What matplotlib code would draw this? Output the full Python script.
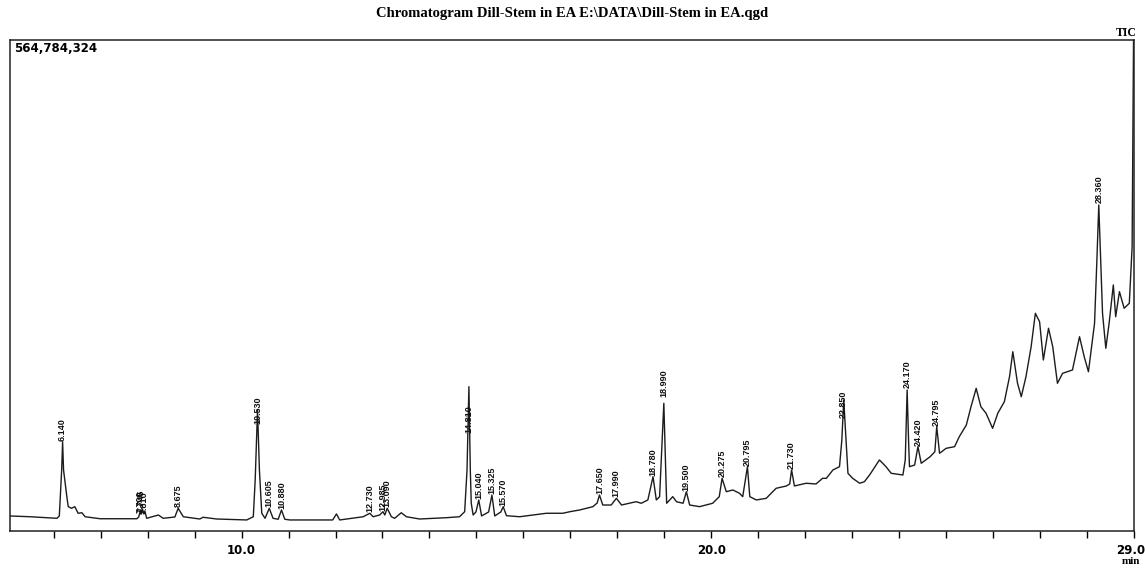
import numpy as np
import matplotlib.pyplot as plt
import matplotlib.transforms as mtransforms

# retention time (min) and TIC intensity (millions of counts)
rt = [5.07, 5.50, 6.07, 6.12, 6.17, 6.19, 6.21, 6.28, 6.31, 6.38, 6.45, 6.52, 6.60, 6.67, 6.99,
      7.77, 7.81, 7.85, 7.87, 7.89, 7.92, 7.94, 7.98, 8.23, 8.33, 8.58, 8.65, 8.76, 9.11, 9.18,
      9.47, 10.11, 10.25, 10.29, 10.34, 10.38, 10.43, 10.50, 10.59, 10.67, 10.78, 10.85, 10.92,
      11.03, 11.94, 12.02, 12.09, 12.59, 12.73, 12.80, 12.94, 13.01, 13.05, 13.10, 13.19, 13.26,
      13.40, 13.51, 13.79, 14.36, 14.64, 14.75, 14.80, 14.84, 14.87, 14.89, 14.93, 14.99, 15.05,
      15.11, 15.26, 15.33, 15.39, 15.52, 15.57, 15.64, 15.92, 16.49, 16.84, 16.99, 17.20, 17.48,
      17.57, 17.62, 17.69, 17.87, 17.98, 18.09, 18.40, 18.51, 18.65, 18.76, 18.83, 18.90, 18.99,
      19.05, 19.18, 19.26, 19.40, 19.47, 19.54, 19.75, 20.03, 20.17, 20.23, 20.32, 20.46, 20.60,
      20.67, 20.77, 20.82, 20.96, 21.17, 21.38, 21.60, 21.67, 21.71, 21.77, 22.02, 22.23, 22.37,
      22.45, 22.59, 22.73, 22.78, 22.82, 22.87, 22.91, 23.01, 23.16, 23.26, 23.37, 23.44, 23.58,
      23.72, 23.83, 24.08, 24.13, 24.17, 24.20, 24.22, 24.33, 24.40, 24.47, 24.66, 24.76, 24.80,
      24.86, 25.00, 25.18, 25.28, 25.43, 25.53, 25.64, 25.74, 25.85, 25.99, 26.10, 26.24, 26.35,
      26.42, 26.52, 26.60, 26.70, 26.81, 26.90, 26.99, 27.07, 27.18, 27.27, 27.37, 27.48, 27.69,
      27.84, 27.94, 28.03, 28.16, 28.21, 28.25, 28.29, 28.33, 28.40, 28.47, 28.56, 28.61, 28.69,
      28.79, 28.90, 28.96, 28.99, 29.05]
tic = [17.3, 16.4, 14.6, 17.3, 70.2, 102.7, 70.2, 39.5, 28.0, 26.1, 28.0, 20.4, 21.0, 16.4, 14.1,
       14.1, 16.1, 24.2, 19.6, 25.3, 19.6, 23.0, 14.6, 18.4, 14.6, 16.1, 26.1, 16.4, 13.8, 15.8,
       13.8, 12.7, 16.4, 58.7, 139.2, 70.2, 20.4, 14.6, 26.1, 14.6, 13.5, 24.2, 13.5,
       12.7, 12.7, 19.6, 12.7, 16.4, 20.4, 16.4, 18.4, 22.2, 18.4, 26.1, 16.4, 14.6,
       21.0, 16.4, 13.8, 15.3, 16.4, 22.2, 70.2, 166.0, 70.2, 31.9, 18.4, 21.9, 35.7,
       17.3, 21.9, 41.4, 17.3, 21.9, 28.0, 17.6, 16.4, 20.4, 20.4, 22.2, 24.2, 28.0,
       32.2, 41.4, 29.9, 29.9, 37.6, 29.9, 33.7, 31.9, 35.7, 62.5, 35.7, 39.5, 146.9,
       31.9, 39.5, 33.7, 31.9, 45.2, 29.9, 28.0, 31.9, 39.5, 60.6, 45.2, 47.2, 43.4,
       39.5, 74.0, 39.5, 35.7, 37.6, 49.1, 51.8, 54.1, 70.2, 51.8, 54.9, 54.1, 60.6,
       60.6, 70.2, 74.0, 104.7, 150.7, 104.7, 66.4, 60.6, 54.9, 56.7, 64.4, 70.2, 81.7,
       74.0, 66.4, 64.4, 81.7, 162.2, 104.7, 74.0, 75.9, 97.0, 77.9, 85.5, 91.2, 120.0,
       89.4, 95.1, 97.0, 108.5, 121.9, 143.0, 164.1, 143.0, 135.4, 118.1, 135.4, 148.7, 177.5,
       206.2, 169.9, 154.5, 177.5, 212.0, 250.4, 240.7, 196.7, 233.2, 212.0, 169.9, 181.4, 185.2,
       223.5, 200.5, 183.2, 238.9, 311.7, 375.0, 311.7, 250.4, 210.2, 238.9, 283.0, 246.5, 275.3,
       256.2, 261.9, 327.0, 564.8, 650.0]

# peak labels
peak_rt = [6.19, 7.83, 7.87, 7.92, 8.65, 10.34, 10.59, 10.85, 12.73, 13.01, 13.10, 14.84,
           15.05, 15.33, 15.57, 17.62, 17.98, 18.76, 18.99, 19.47, 20.23, 20.77, 21.71,
           22.82, 24.17, 24.40, 24.80, 28.25]
peak_txt = ["6.140", "7.700", "7.745", "7.810", "8.675", "10.530", "10.605", "10.880",
            "12.730", "12.985", "13.090", "14.810", "15.040", "15.325", "15.570", "17.650",
            "17.990", "18.780", "18.990", "19.500", "20.275", "20.795", "21.730", "22.850",
            "24.170", "24.420", "24.795", "28.360"]

ymax = 564.784

fig = plt.figure(figsize=(11.45, 5.69), dpi=100)
ax = fig.add_axes([10 / 1145, 1 - 531 / 569, 1124 / 1145, 491 / 569])
ax.plot(rt, tic, color='#1c1c1c', lw=1.0)
ax.set_xlim(5.07, 29.0)
ax.set_ylim(0, ymax)

# label offsets in pixels (most sit on the apex, some overlap the line)
dy = {"10.530": -14, "14.810": -46, "18.990": 6, "22.850": -18, "24.170": 2, "28.360": 2,
      "7.700": 0, "7.745": 2, "7.810": 0}
apex = np.interp(peak_rt, rt, tic)
for x, a, s in zip(peak_rt, apex, peak_txt):
    ax.annotate(s, xy=(x, a), xytext=(0, dy.get(s, 1)), textcoords='offset pixels',
                rotation=90, ha='center', va='bottom', fontsize=6.5, fontweight='bold',
                family='Liberation Sans', color='#111111')

ax.set_xticks(range(6, 30))
ax.set_xticklabels(['10.0' if t == 10 else '20.0' if t == 20 else '29.0' if t == 29 else ''
                    for t in range(6, 30)])
ax.tick_params(axis='x', direction='out', length=5, width=1, pad=4, labelsize=8.5)
for lab in ax.get_xticklabels():
    lab.set_fontweight('bold')
last = ax.get_xticklabels()[-1]
last.set_transform(last.get_transform() + mtransforms.ScaledTranslation(-3 / 100, 0, fig.dpi_scale_trans))
ax.set_yticks([])
for sp in ax.spines.values():
    sp.set_linewidth(1.1)
    sp.set_color('#222222')

ax.text(0.004, 0.995, "564,784,324", transform=ax.transAxes, ha='left', va='top',
        fontsize=8.5, fontweight='bold')
fig.text(1137 / 1145, 1 - 33 / 569, "TIC", ha='right', va='center', fontsize=8.5,
         fontweight='bold', family='Liberation Serif')
fig.text(1131 / 1145, 1 - 561 / 569, "min", ha='center', va='center', fontsize=8,
         fontweight='bold', family='Liberation Serif')
fig.text(572 / 1145, 1 - 13 / 569, "Chromatogram Dill-Stem in EA E:\\DATA\\Dill-Stem in EA.qgd",
         ha='center', va='center', fontsize=10.5, fontweight='bold', family='Liberation Serif')

fig.savefig('out.png', dpi=100)
